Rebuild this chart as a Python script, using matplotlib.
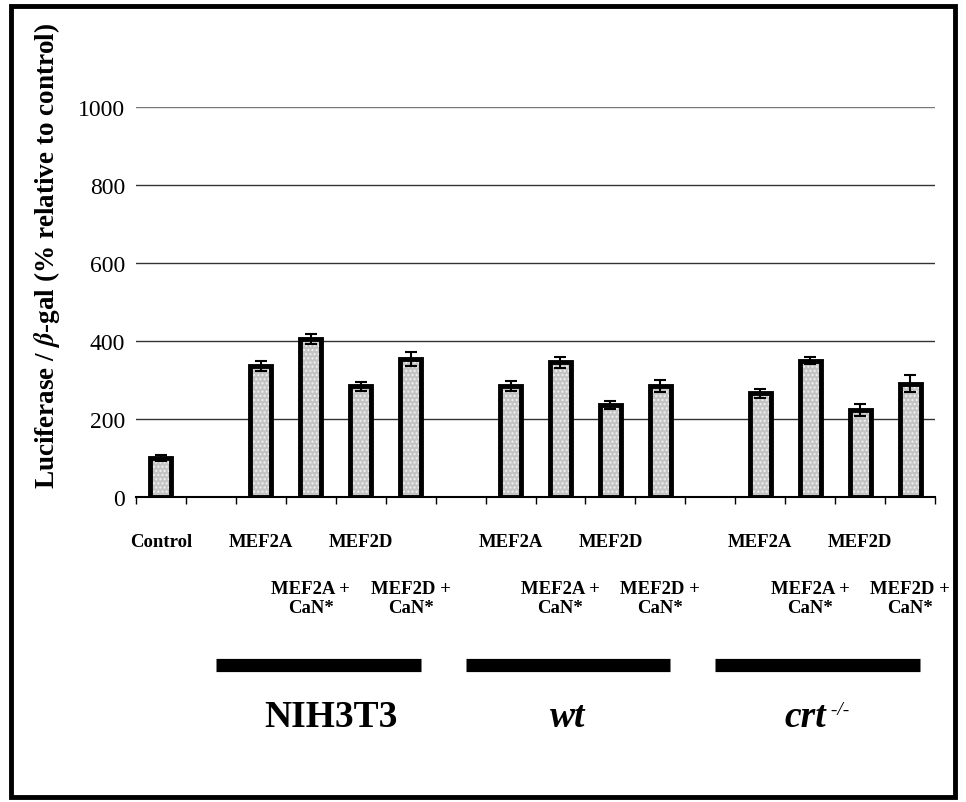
import matplotlib
matplotlib.use("Agg")
from matplotlib import pyplot as plt
from matplotlib.patches import Rectangle
import matplotlib.transforms as mtransforms
import numpy as np

# bar data (% relative to control)
labels = ['Control', '', 'MEF2A', 'MEF2A +\nCaN*', 'MEF2D', 'MEF2D +\nCaN*',
          '', 'MEF2A', 'MEF2A +\nCaN*', 'MEF2D', 'MEF2D +\nCaN*',
          '', 'MEF2A', 'MEF2A +\nCaN*', 'MEF2D', 'MEF2D +\nCaN*']
values = [100, np.nan, 335, 406, 284, 353,
          np.nan, 284, 345, 236, 284,
          np.nan, 266, 350, 223, 290]
errors = [8, 0, 13, 13, 11, 18,
          0, 13, 13, 10, 16,
          0, 11, 10, 16, 22]
yticks = [0, 200, 400, 600, 800, 1000]

# cell-line groups: name, first and last category index
group_names = ['NIH3T3', 'wt', 'crt']
group_first = [2, 7, 12]
group_last = [5, 10, 15]

plt.rcParams['font.family'] = ['Liberation Serif', 'DejaVu Serif']
plt.rcParams['mathtext.fontset'] = 'stix'

fig = plt.figure(figsize=(9.66, 8.03), dpi=100)
ax = fig.add_axes([0.1408, 0.3798, 0.8271, 0.4857])

x = np.arange(len(labels))
vals = np.array(values, dtype=float)
errs = np.array(errors, dtype=float)
ok = np.isfinite(vals)

# stippled grey fill, then black outline on top
ax.bar(x[ok], vals[ok], width=0.42, color='#c4c4c4', hatch='....',
       edgecolor='#f2f2f2', linewidth=0, zorder=2)
ax.bar(x[ok], vals[ok], width=0.42, fill=False, edgecolor='black',
       linewidth=3.5, zorder=3)
ax.errorbar(x[ok], vals[ok], yerr=errs[ok], fmt='none', ecolor='black',
            elinewidth=1.5, capsize=4, capthick=1.5, zorder=4)

ax.set_xlim(-0.5, len(labels) - 0.5)
ax.set_ylim(0, 1000)
ax.set_yticks(yticks)
ax.set_yticklabels([str(v) for v in yticks], fontsize=17)
ax.tick_params(axis='y', length=0, pad=8)
for v in yticks[1:]:
    ax.axhline(v, color='#333333' if v < 1000 else '#777777',
               linewidth=1, zorder=1)

ax.set_xticks(np.arange(-0.5, len(labels), 1.0))
ax.set_xticklabels([])
ax.tick_params(axis='x', direction='out', length=5, width=1)
for s in ['top', 'right', 'left']:
    ax.spines[s].set_visible(False)
ax.spines['bottom'].set_linewidth(1.5)

# category labels, alternating rows
trans = mtransforms.blended_transform_factory(ax.transData, fig.transFigure)
for i, lab in enumerate(labels):
    if not lab:
        continue
    y = 0.254 if '\n' in lab else 0.325
    ax.text(i, y, lab, transform=trans, ha='center', va='center',
            fontsize=13.5, fontweight='bold', linespacing=1.15)

# group bars and names
for name, a, b in zip(group_names, group_first, group_last):
    x0, x1 = a - 0.9, b + 0.2
    ax.plot([x0, x1], [0.170, 0.170], transform=trans, color='black',
            linewidth=9.5, solid_capstyle='butt', clip_on=False)
    xc = (x0 + x1) / 2
    if name == 'NIH3T3':
        ax.text(xc + 0.25, 0.106, name, transform=trans, ha='center', va='center',
                fontsize=27, fontweight='bold')
    elif name == 'wt':
        ax.text(xc, 0.106, name, transform=trans, ha='center', va='center',
                fontsize=27, fontweight='bold', fontstyle='italic')
    else:
        t = ax.text(xc - 0.25, 0.106, name, transform=trans, ha='center',
                    va='center', fontsize=27, fontweight='bold',
                    fontstyle='italic')
        ax.annotate(' -/-', xy=(1, 0.95), xycoords=t, ha='left', va='top',
                    fontsize=14, fontstyle='italic')

fig.text(0.049, 0.682, r'Luciferase / $\boldsymbol{\beta}$-gal (% relative to control)',
         rotation=90, ha='center', va='center', fontsize=19.5, fontweight='bold')

# outer frame
fig.patches.append(Rectangle((0.011, 0.006), 0.978, 0.985, transform=fig.transFigure,
                             fill=False, edgecolor='black', linewidth=3.5))

fig.savefig('out.png', dpi=100, facecolor='white')
